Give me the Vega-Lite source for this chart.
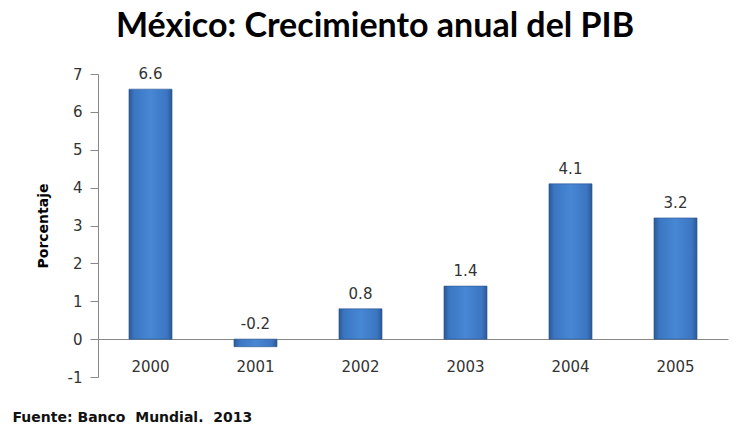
{
  "$schema": "https://vega.github.io/schema/vega-lite/v6.json",
  "autosize": "none",
  "width": 630,
  "height": 303,
  "padding": {"left": 98, "top": 74, "right": 10, "bottom": 47},
  "background": "white",
  "title": {
    "text": "México: Crecimiento anual del PIB",
    "font": "Lato",
    "fontSize": 34,
    "fontWeight": "bold",
    "color": "#000000",
    "anchor": "middle",
    "dx": -38,
    "offset": 23
  },
  "data": {
    "values": [
      {"year": "2000", "value": 6.6, "label": "6.6"},
      {"year": "2001", "value": -0.2, "label": "-0.2"},
      {"year": "2002", "value": 0.8, "label": "0.8"},
      {"year": "2003", "value": 1.4, "label": "1.4"},
      {"year": "2004", "value": 4.1, "label": "4.1"},
      {"year": "2005", "value": 3.2, "label": "3.2"}
    ]
  },
  "transform": [{"calculate": "max(datum.value, 0)", "as": "labelPos"}],
  "encoding": {
    "x": {
      "field": "year",
      "type": "nominal",
      "scale": {"paddingInner": 0.59, "paddingOuter": 0.295},
      "axis": {
        "orient": "bottom",
        "offset": -38,
        "labelAngle": 0,
        "ticks": false,
        "labelPadding": 20,
        "labelFont": "DejaVu Sans",
        "labelFontSize": 15,
        "labelColor": "#333333",
        "domainColor": "#888888",
        "title": "Fuente:\u00a0Banco\u00a0\u00a0Mundial.\u00a0\u00a02013",
        "titleFont": "DejaVu Sans",
        "titleFontSize": 14,
        "titleFontWeight": "bold",
        "titleColor": "#111111",
        "titleAnchor": "start",
        "titleAlign": "left",
        "titleBaseline": "alphabetic",
        "titleX": -86,
        "titleY": 82
      }
    }
  },
  "layer": [
    {
      "mark": {
        "type": "bar",
        "stroke": "#2a5590",
        "strokeWidth": 0.6,
        "fill": {
          "gradient": "linear",
          "x1": 0, "y1": 0, "x2": 1, "y2": 0,
          "stops": [
            {"offset": 0, "color": "#2b5893"},
            {"offset": 0.12, "color": "#3b76c2"},
            {"offset": 0.5, "color": "#4787d4"},
            {"offset": 0.88, "color": "#3b76c2"},
            {"offset": 1, "color": "#2b5893"}
          ]
        }
      },
      "encoding": {
        "y": {
          "field": "value",
          "type": "quantitative",
          "scale": {"domain": [-1, 7], "nice": false},
          "axis": {
            "values": [-1, 0, 1, 2, 3, 4, 5, 6, 7],
            "labelExpr": "replace(datum.label, '−', '-')",
            "labelOverlap": false,
            "grid": false,
            "tickSize": 8,
            "tickColor": "#888888",
            "domainColor": "#888888",
            "labelPadding": 8,
            "labelFont": "DejaVu Sans",
            "labelFontSize": 15,
            "labelColor": "#333333",
            "title": "Porcentaje",
            "titleFont": "DejaVu Sans",
            "titleFontSize": 14,
            "titleFontWeight": "bold",
            "titleColor": "#000000",
            "titlePadding": 17
          }
        },
        "y2": {"datum": 0}
      }
    },
    {
      "mark": {
        "type": "text",
        "baseline": "bottom",
        "dy": -7,
        "font": "DejaVu Sans",
        "fontSize": 15,
        "color": "#333333"
      },
      "encoding": {
        "y": {
          "field": "labelPos",
          "type": "quantitative",
          "axis": {
            "values": [-1, 0, 1, 2, 3, 4, 5, 6, 7],
            "labelExpr": "replace(datum.label, '−', '-')",
            "labelOverlap": false,
            "grid": false,
            "tickSize": 8,
            "tickColor": "#888888",
            "domainColor": "#888888",
            "labelPadding": 8,
            "labelFont": "DejaVu Sans",
            "labelFontSize": 15,
            "labelColor": "#333333",
            "title": "Porcentaje",
            "titleFont": "DejaVu Sans",
            "titleFontSize": 14,
            "titleFontWeight": "bold",
            "titleColor": "#000000",
            "titlePadding": 17
          }
        },
        "text": {"field": "label"}
      }
    }
  ],
  "config": {
    "view": {"stroke": null}
  }
}
